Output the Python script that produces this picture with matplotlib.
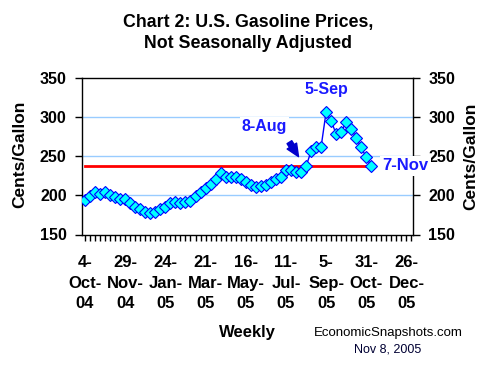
import matplotlib
matplotlib.use("Agg")
import matplotlib.pyplot as plt
import numpy as np

plt.rcParams['font.family'] = ['Liberation Sans', 'DejaVu Sans']

# weekly retail gasoline, cents/gallon, from 4-Oct-04 to 7-Nov-05
prices = [193.8, 199.4, 204.1, 201.9, 204.1, 200.6, 198.1, 195.9, 195.1, 190.8,
          185.3, 182.3, 179.3, 178.0, 179.3, 182.7, 185.7, 190.0, 191.7, 190.0,
          191.3, 192.6, 199.4, 203.7, 209.2, 214.7, 221.2, 228.4, 224.1, 223.3,
          223.7, 221.0, 217.7, 213.5, 210.5, 212.2, 213.5, 216.9, 221.2, 223.3,
          232.7, 232.7, 229.3, 229.3, 237.0, 256.2, 261.8, 261.8, 306.6, 294.7,
          278.8, 281.4, 293.4, 285.3, 273.3, 261.3, 248.5, 237.6]
tick_labels = ["4-\nOct-\n04", "29-\nNov-\n04", "24-\nJan-\n05", "21-\nMar-\n05",
               "16-\nMay-\n05", "11-\nJul-\n05", "5-\nSep-\n05", "31-\nOct-\n05",
               "26-\nDec-\n05"]
yticks = [150, 200, 250, 300, 350]
idx_aug = 44
idx_sep = 48

W, H = 493, 370
fig = plt.figure(figsize=(W / 100, H / 100), dpi=100)
ax = fig.add_axes([82 / W, 1 - 234.5 / H, 331 / W, 156.5 / H])

x = np.arange(len(prices))
last = prices[-1]

for g in yticks[1:-1]:
    ax.axhline(g, color='#99CCFF', lw=1, zorder=1)
ax.plot([x[0], x[-1]], [last, last], color='#FF0000', lw=2, zorder=2)
ax.plot(x, prices, color='#0000FF', lw=1, marker='D', markersize=5.8,
        markerfacecolor='#00FFFF', markeredgecolor='#0000FF', markeredgewidth=0.8,
        zorder=3)

ax.set_ylim(150, 350)
ax.set_xlim(-0.6, 65.3)
ax.set_yticks(yticks)
ax.set_xticks(np.arange(0, 65, 8))
ax.set_xticklabels(tick_labels, fontsize=12, fontweight='bold', linespacing=1.45)
ax.set_xticks(np.arange(0, 66, 1), minor=True)
ax.tick_params(axis='x', which='both', direction='out', length=4, width=1, pad=11)
ax.tick_params(axis='y', which='major', direction='out', length=5, width=1,
               labelsize=11.5, pad=6, right=True, labelright=True)
for lab in ax.get_yticklabels():
    lab.set_fontweight('bold')
for s in ax.spines.values():
    s.set_linewidth(1)
    s.set_color('black')

blue = '#1A1AFF'
ax.annotate("5-Sep", xy=(idx_sep, prices[idx_sep]), xytext=(0, 16),
            textcoords='offset points', ha='center', va='center',
            fontsize=11.5, fontweight='bold', color=blue, zorder=5)
ax.annotate("8-Aug", xy=(idx_aug, prices[idx_aug]), xytext=(-30, 29),
            textcoords='offset points', ha='center', va='center',
            fontsize=11.5, fontweight='bold', color=blue, zorder=5,
            bbox=dict(boxstyle='square,pad=0.1', fc='white', ec='none'))
ax.annotate("", xy=(idx_aug - 1.2, prices[idx_aug] + 9.5),
            xytext=(idx_aug - 3.6, prices[idx_aug] + 34),
            arrowprops=dict(arrowstyle='simple,head_length=0.9,head_width=0.8,tail_width=0.4',
                            fc='#0000CC', ec='#0000CC'), zorder=5)
ax.annotate("7-Nov", xy=(x[-1], last), xytext=(8, 0),
            textcoords='offset points', ha='left', va='center',
            fontsize=12, fontweight='bold', color=blue, zorder=6,
            annotation_clip=False,
            bbox=dict(boxstyle='square,pad=0.15', fc='white', ec='none'))

fig.text(248 / W, 1 - 22 / H, "Chart 2: U.S. Gasoline Prices,", ha='center',
         va='center', fontsize=12.8, fontweight='bold')
fig.text(248 / W, 1 - 44 / H, "Not Seasonally Adjusted", ha='center',
         va='center', fontsize=12.8, fontweight='bold')
fig.text(20 / W, 1 - 154 / H, "Cents/Gallon", rotation=90, ha='center',
         va='center', fontsize=12.5, fontweight='bold')
fig.text(471 / W, 1 - 156 / H, "Cents/Gallon", rotation=90, ha='center',
         va='center', fontsize=12.5, fontweight='bold')
fig.text(247 / W, 1 - 333 / H, "Weekly", ha='center', va='center',
         fontsize=12, fontweight='bold')
fig.text(388 / W, 1 - 333 / H, "EconomicSnapshots.com", ha='center',
         va='center', fontsize=9.5)
fig.text(388 / W, 1 - 350 / H, "Nov 8, 2005", ha='center', va='center',
         fontsize=9, color='#000033')

fig.savefig("out.png", dpi=100)
